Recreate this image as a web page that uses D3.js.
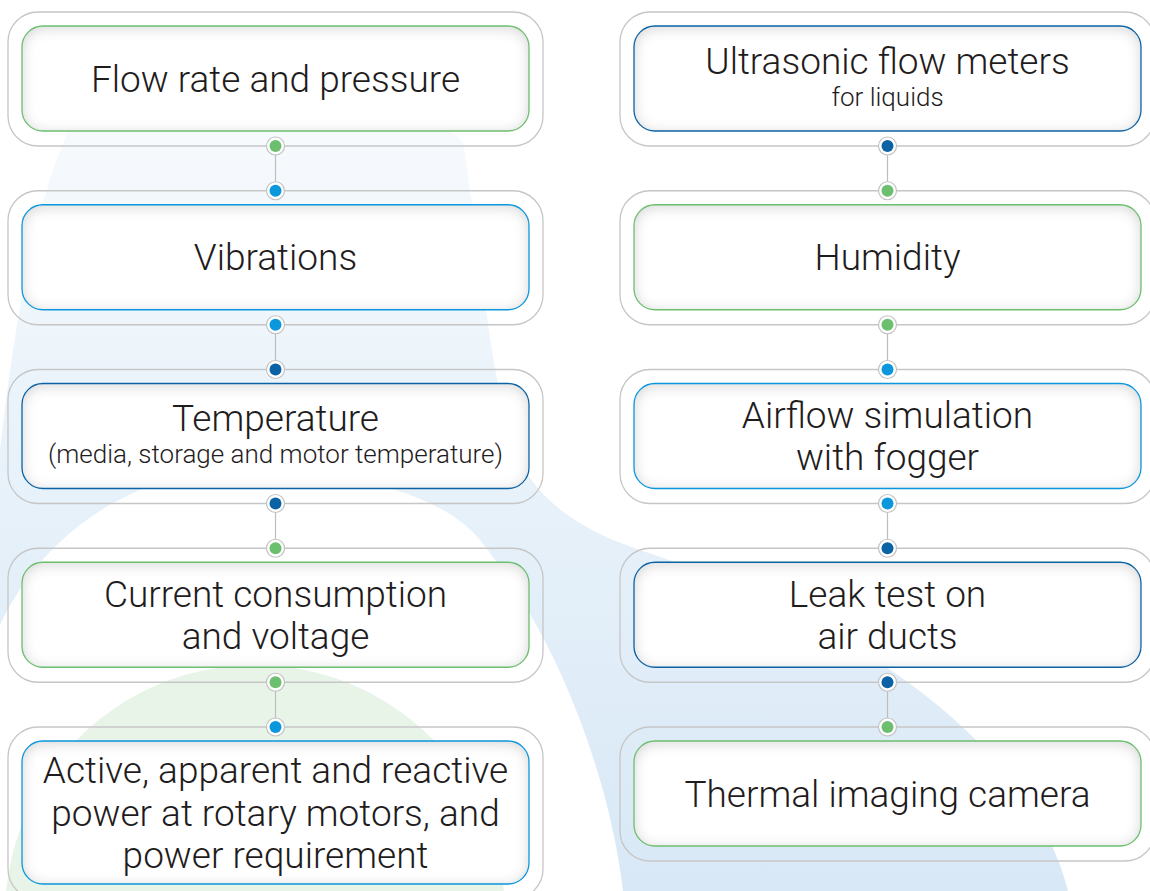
<!DOCTYPE html>
<html>
<head>
<meta charset="utf-8">
<script src="https://cdn.jsdelivr.net/npm/d3@7"></script>
<style>
  body { margin: 0; background: #fff; }
  svg { display: block; }
  text { font-family: Roboto, "Liberation Sans", sans-serif; font-weight: 300; fill: #1f1c1d; }
</style>
</head>
<body>
<div id="chart"></div>
<script>
// box contents, one list per column (top to bottom)
const leftTitles = [
  ["Flow rate and pressure"],
  ["Vibrations"],
  ["Temperature"],
  ["Current consumption", "and voltage"],
  ["Active, apparent and reactive", "power at rotary motors, and", "power requirement"]
];
const leftNotes = ["", "", "(media, storage and motor temperature)", "", ""];
const leftTones = ["green", "light", "dark", "green", "light"];

const rightTitles = [
  ["Ultrasonic flow meters"],
  ["Humidity"],
  ["Airflow simulation", "with fogger"],
  ["Leak test on", "air ducts"],
  ["Thermal imaging camera"]
];
const rightNotes = ["for liquids", "", "", "", ""];
const rightTones = ["dark", "green", "light", "dark", "green"];

const toneColor = { green: "#6cbf6f", light: "#0a97dc", dark: "#0b63a6" };

const width = 1150, height = 891;

const svg = d3.select('#chart').append('svg')
  .attr('width', width)
  .attr('height', height);

const defs = svg.append('defs');

// background gradient for the soft blue shape
const grad = defs.append('linearGradient')
  .attr('id', 'bgBlue')
  .attr('gradientUnits', 'userSpaceOnUse')
  .attr('x1', 0).attr('y1', 120).attr('x2', 0).attr('y2', 891);
grad.append('stop').attr('offset', 0).attr('stop-color', '#f7fafd');
grad.append('stop').attr('offset', 0.45).attr('stop-color', '#e8f2fa');
grad.append('stop').attr('offset', 1).attr('stop-color', '#d8e8f6');

// inner shadow for the white boxes
const f = defs.append('filter').attr('id', 'inset')
  .attr('x', '-5%').attr('y', '-10%').attr('width', '110%').attr('height', '120%');
f.append('feFlood').attr('flood-color', '#000').attr('flood-opacity', 0.38).attr('result', 'c');
f.append('feComposite').attr('in', 'c').attr('in2', 'SourceAlpha').attr('operator', 'out').attr('result', 'o');
f.append('feGaussianBlur').attr('in', 'o').attr('stdDeviation', 7).attr('result', 'b');
f.append('feOffset').attr('in', 'b').attr('dy', 2).attr('result', 'bo');
f.append('feComposite').attr('in', 'bo').attr('in2', 'SourceAlpha').attr('operator', 'in').attr('result', 's');
const m = f.append('feMerge');
m.append('feMergeNode').attr('in', 'SourceGraphic');
m.append('feMergeNode').attr('in', 's');

// background shapes
const bg = svg.append('g');
bg.append('path')
  .attr('d', 'M 70,128 C 160,100 420,90 463,142 C 480,250 490,380 515,450 C 535,500 580,530 640,550 ' +
             'C 850,620 1030,740 1068,891 L 623,891 C 610,780 560,640 480,540 C 440,490 330,465 220,470 ' +
             'C 120,480 40,540 0,625 L 0,450 C 15,320 35,200 70,128 Z')
  .attr('fill', 'url(#bgBlue)');
bg.append('circle')
  .attr('cx', 255).attr('cy', 915).attr('r', 250)
  .attr('fill', '#e9f4e9');

// layout scales
const rowY = d3.scaleLinear().domain([0, 4]).range([12, 727]);
const colX = d3.scalePoint().domain(['left', 'right']).range([8, 620]);
const outerW = 535, pad = 14;
const innerW = outerW - 2 * pad;
const titleSize = 37, noteSize = 26;

function boxH(titles) { return titles.length > 2 ? 143 : 105; }

const columns = [
  { key: 'left', titles: leftTitles, notes: leftNotes, tones: leftTones },
  { key: 'right', titles: rightTitles, notes: rightNotes, tones: rightTones }
];

columns.forEach(col => {
  const x0 = colX(col.key);
  const cx = x0 + outerW / 2;
  const g = svg.append('g');

  // connectors between rows
  for (let i = 0; i < col.titles.length - 1; i++) {
    const yb = rowY(i) + boxH(col.titles[i]) + 29;
    const yt = rowY(i + 1);
    g.append('line')
      .attr('x1', cx).attr('x2', cx).attr('y1', yb).attr('y2', yt)
      .attr('stroke', '#bdbdbd').attr('stroke-width', 1.2);
  }

  col.titles.forEach((lines, i) => {
    const y0 = rowY(i);
    const ih = boxH(lines);
    const oh = ih + 29;
    const color = toneColor[col.tones[i]];

    // outer frame
    g.append('rect')
      .attr('x', x0).attr('y', y0).attr('width', outerW).attr('height', oh)
      .attr('rx', 30).attr('ry', 30)
      .attr('fill', 'none').attr('stroke', '#c6c6c6').attr('stroke-width', 1.3);

    // inner box with shading
    g.append('rect')
      .attr('x', x0 + pad).attr('y', y0 + pad).attr('width', innerW).attr('height', ih)
      .attr('rx', 21).attr('ry', 21)
      .attr('fill', '#fff').attr('filter', 'url(#inset)');
    g.append('rect')
      .attr('x', x0 + pad).attr('y', y0 + pad).attr('width', innerW).attr('height', ih)
      .attr('rx', 21).attr('ry', 21)
      .attr('fill', 'none').attr('stroke', color).attr('stroke-width', 1.3);

    // text
    const mid = y0 + pad + ih / 2;
    const note = col.notes[i];
    const capHalf = titleSize * 0.711 / 2;
    if (note) {
      g.append('text').attr('x', cx).attr('y', mid - 18 + capHalf)
        .attr('text-anchor', 'middle').style('font-size', titleSize + 'px').text(lines[0]);
      g.append('text').attr('x', cx).attr('y', mid + 27)
        .attr('text-anchor', 'middle').style('font-size', noteSize + 'px').text(note);
    } else {
      const lh = 42.5;
      lines.forEach((ln, j) => {
        const c = mid + (j - (lines.length - 1) / 2) * lh;
        g.append('text').attr('x', cx).attr('y', c + capHalf)
          .attr('text-anchor', 'middle').style('font-size', titleSize + 'px').text(ln);
      });
    }

    // dots: top (not first row) and bottom (not last row)
    const dots = [];
    if (i > 0) dots.push(y0);
    if (i < col.titles.length - 1) dots.push(y0 + oh);
    dots.forEach(dy => {
      g.append('circle').attr('cx', cx).attr('cy', dy).attr('r', 9)
        .attr('fill', '#fff').attr('stroke', '#c2c2c2').attr('stroke-width', 1.2);
      g.append('circle').attr('cx', cx).attr('cy', dy).attr('r', 6)
        .attr('fill', color);
    });
  });
});
</script>
</body>
</html>
